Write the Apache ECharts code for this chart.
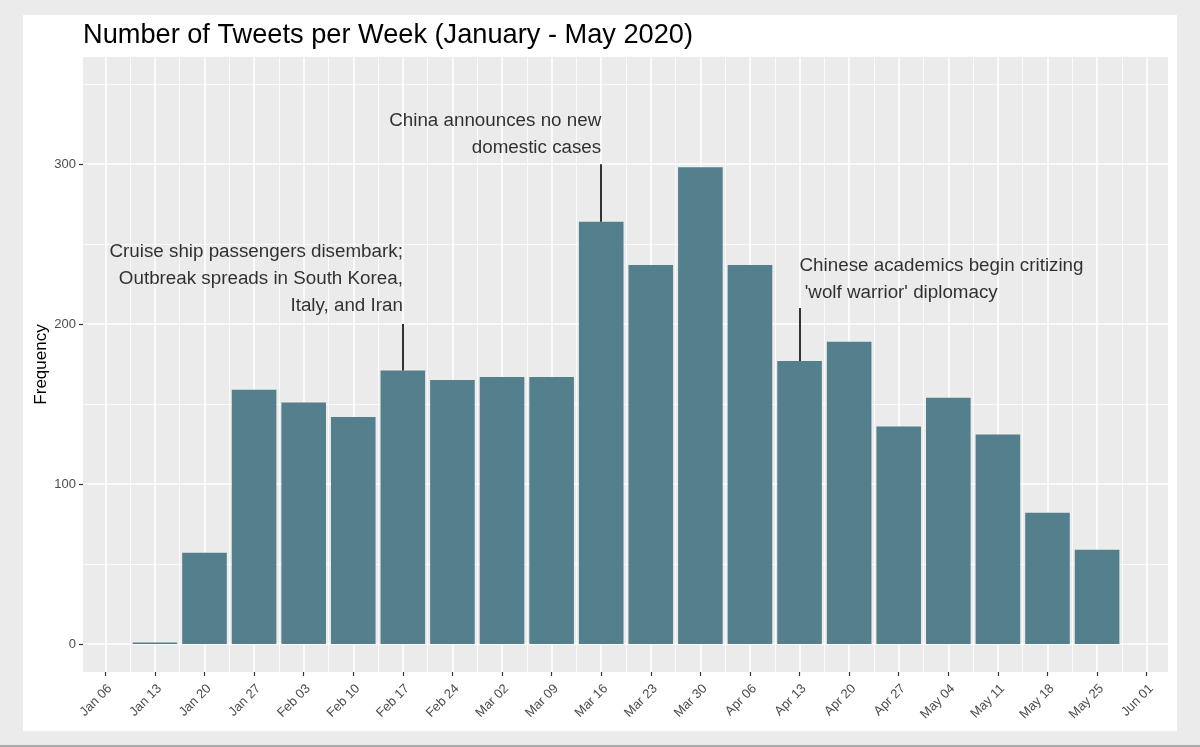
<!DOCTYPE html>
<html>
<head>
<meta charset="utf-8">
<script src="https://cdn.jsdelivr.net/npm/echarts@6/dist/echarts.min.js"></script>
<style>
  html, body { margin: 0; padding: 0; }
  #outer { position: relative; width: 1200px; height: 747px; background: #ebebeb; overflow: hidden; }
  #outer::after { content: ""; position: absolute; left: 0; right: 0; bottom: 0; height: 2px; background: #a8a8a8; }
  #chart { position: absolute; left: 23px; top: 15px; width: 1154px; height: 716px; background: #ffffff; }
</style>
</head>
<body>
<div id="outer"><div id="chart"></div></div>
<script>
// ---- data ----
const weekLabels = ["Jan 06","Jan 13","Jan 20","Jan 27","Feb 03","Feb 10","Feb 17","Feb 24","Mar 02","Mar 09","Mar 16","Mar 23","Mar 30","Apr 06","Apr 13","Apr 20","Apr 27","May 04","May 11","May 18","May 25","Jun 01"];
const tweetCounts = [null, 1, 57, 159, 151, 142, 171, 165, 167, 167, 264, 237, 298, 237, 177, 189, 136, 154, 131, 82, 59, null];
const yTicks = [0, 100, 200, 300];
const yMinorTicks = [50, 150, 250, 350];
const annoWeek = [6, 10, 14];
const annoLineTop = [200, 300, 210];
const annoTextY = [228.3, 318.8, 228.1];
const annoText = [
  "Cruise ship passengers disembark;\nOutbreak spreads in South Korea,\nItaly, and Iran",
  "China announces no new\ndomestic cases",
  "Chinese academics begin critizing\n 'wolf warrior' diplomacy"
];
const annoAlign = ["right", "right", "left"];

// ---- derived ----
const xIdx = weekLabels.map((_, i) => i);
const xMinor = weekLabels.slice(0, -1).map((_, i) => i + 0.5);
const barData = tweetCounts.map((v, i) => [i, v]);
const FONT = "'Liberation Sans', Arial, Helvetica, sans-serif";

const chart = echarts.init(document.getElementById('chart'), null, { renderer: 'canvas' });
chart.setOption({
  animation: false,
  backgroundColor: '#ffffff',
  title: {
    text: 'Number of Tweets per Week (January - May 2020)',
    left: 55, top: 2,
    textStyle: { fontFamily: FONT, fontSize: 27.2, fontWeight: 'normal', color: '#000000', lineHeight: 28 }
  },
  grid: {
    left: 60, right: 9, top: 42, bottom: 59, show: true, backgroundColor: '#ebebeb', borderWidth: 0,
    containLabel: false, outerBoundsMode: 'none'
  },
  xAxis: [
    {
      type: 'value', min: -0.45, max: 21.43,
      axisLine: { show: false, onZero: false },
      axisTick: { show: true, inside: false, customValues: xIdx, length: 4, lineStyle: { color: '#333333', width: 1.2 } },
      axisLabel: {
        customValues: xIdx, rotate: 45, margin: 10, align: 'right', verticalAlign: 'top',
        fontFamily: FONT, fontSize: 13, color: '#4d4d4d',
        formatter: v => weekLabels[Math.round(v)]
      },
      splitLine: { show: true, lineStyle: { color: '#ffffff', width: 1.6 } }
    },
    {
      type: 'value', min: -0.45, max: 21.43, position: 'top',
      axisLine: { show: false, onZero: false },
      axisTick: { show: false, customValues: xMinor },
      axisLabel: { show: false, customValues: xMinor },
      splitLine: { show: true, lineStyle: { color: '#ffffff', width: 0.8 } }
    }
  ],
  yAxis: [
    {
      type: 'value', min: -17.5, max: 367,
      name: 'Frequency', nameLocation: 'middle', nameGap: 33, nameRotate: 90, nameMoveOverlap: false,
      nameTextStyle: { fontFamily: FONT, fontSize: 17, color: '#000000' },
      axisLine: { show: false, onZero: false },
      axisTick: { show: true, inside: false, customValues: yTicks, length: 4, lineStyle: { color: '#333333', width: 1.2 } },
      axisLabel: { customValues: yTicks, margin: 7, fontFamily: FONT, fontSize: 13, color: '#4d4d4d' },
      splitLine: { show: true, lineStyle: { color: '#ffffff', width: 1.6 } }
    },
    {
      type: 'value', min: -17.5, max: 367, position: 'right',
      axisLine: { show: false, onZero: false },
      axisTick: { show: false, customValues: yMinorTicks },
      axisLabel: { show: false, customValues: yMinorTicks },
      splitLine: { show: true, lineStyle: { color: '#ffffff', width: 0.8 } }
    }
  ],
  series: [
    {
      type: 'bar', xAxisIndex: 0, yAxisIndex: 0,
      data: barData, barWidth: 44.6,
      itemStyle: { color: '#53808c' },
      markLine: {
        silent: true, symbol: 'none', animation: false,
        label: { show: false },
        lineStyle: { color: '#000000', width: 1.6, type: 'solid' },
        data: annoWeek.map((w, i) => [{ coord: [w, annoLineTop[i]] }, { coord: [w, tweetCounts[w]] }])
      }
    },
    {
      type: 'scatter', xAxisIndex: 0, yAxisIndex: 0, symbolSize: 0, silent: true,
      data: annoWeek.map((w, i) => ({
        value: [w, annoTextY[i]],
        label: {
          show: true, position: 'inside', formatter: annoText[i],
          align: annoAlign[i], verticalAlign: 'middle',
          fontFamily: FONT, fontSize: 18.8, lineHeight: 26.7, color: '#000000'
        }
      }))
    }
  ]
});
</script>
</body>
</html>
